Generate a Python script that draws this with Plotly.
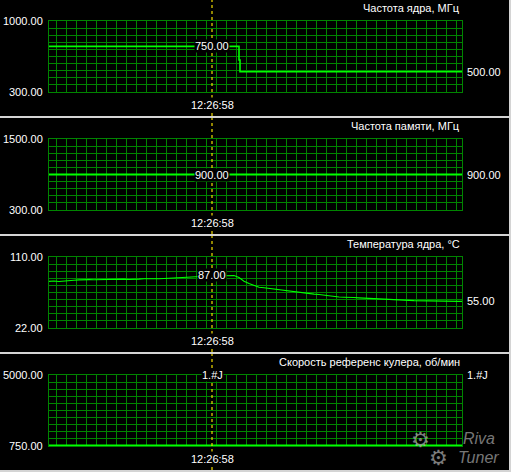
import plotly.graph_objects as go

# ---------------- data ----------------
n_samples = 413          # samples visible across the graph
cursor_index = 163       # sample under the yellow cursor
cursor_time = "12:26:58"

core_titles = "Частота ядра, МГц"
core_idx = [0, 190, 191, 413]
core_mhz = [750, 615, 500, 500]
core_range = [300, 1000]
core_cursor_label = "750.00"
core_last_label = "500.00"

mem_title = "Частота памяти, МГц"
mem_idx = [0, 413]
mem_mhz = [900, 900]
mem_range = [300, 1500]
mem_cursor_label = "900.00"
mem_last_label = "900.00"

temp_title = "Температура ядра, °C"
temp_idx = list(range(0, 411, 5)) + [413]
temp_c = [79.8, 80.2, 79.6, 80.4, 80.9, 81.2, 81.6, 81.3, 81.9, 81.8,
          82.0, 81.7, 82.1, 82.0, 82.3, 82.6, 82.2, 82.8, 82.6, 83.0,
          82.7, 83.2, 83.0, 83.4, 83.8, 84.2, 84.0, 84.9, 85.3, 85.0,
          86.0, 86.3, 86.6, 86.9, 87.0, 86.8, 87.2, 87.0, 84.5, 80.0,
          77.2, 75.0, 72.6, 71.8, 71.0, 70.1, 68.8, 68.0, 67.2, 66.5,
          66.0, 65.4, 64.8, 64.0, 63.5, 62.8, 61.6, 60.5, 60.4, 60.2,
          60.3, 59.8, 59.4, 59.0, 58.5, 58.3, 58.0, 57.7, 57.5, 57.0,
          56.8, 56.5, 56.2, 55.9, 55.7, 55.6, 55.3, 55.2, 55.0, 55.4,
          54.9, 55.0, 55.0, 55.0]
temp_range = [22, 110]
temp_cursor_label = "87.00"
temp_cursor_value = 87.0
temp_last_label = "55.00"

fan_title = "Скорость референс кулера, об/мин"
fan_idx = [0, 413]
fan_rpm = [750, 750]
fan_range = [750, 5000]
fan_cursor_label = "1.#J"
fan_last_label = "1.#J"

# ---------------- layout constants ----------------
W, H = 511, 472
PX_L, PX_R = 49, 462
PANEL_H = 118
PLOT_TOP, PLOT_BOT = 21, 92
GRID = "#008400"
LINE = "#00ff00"
TXT = "#ffffff"
FONT = "Liberation Sans, Arial, sans-serif"
FS = 11

panels = [
    dict(title=core_titles, x=core_idx, y=core_mhz, rng=core_range, shape="hv",
         cur_lbl=core_cursor_label, cur_val=750, last_lbl=core_last_label,
         last_val=core_mhz[-1], lw=1.6),
    dict(title=mem_title, x=mem_idx, y=mem_mhz, rng=mem_range, shape="hv",
         cur_lbl=mem_cursor_label, cur_val=900, last_lbl=mem_last_label,
         last_val=mem_mhz[-1], lw=2),
    dict(title=temp_title, x=temp_idx, y=temp_c, rng=temp_range, shape="linear",
         cur_lbl=temp_cursor_label, cur_val=temp_cursor_value + 1.2,
         last_lbl=temp_last_label, last_val=temp_c[-1], lw=1.1),
    dict(title=fan_title, x=fan_idx, y=fan_rpm, rng=fan_range, shape="hv",
         cur_lbl=fan_cursor_label, cur_val=fan_range[1],
         last_lbl=fan_last_label, last_val=fan_range[1], lw=3),
]

def py(px):
    return 1 - px / H

fig = go.Figure()
annotations = []
shapes = []
layout = {}

for k, p in enumerate(panels):
    top = k * PANEL_H
    xa = "x" if k == 0 else f"x{k+1}"
    ya = "y" if k == 0 else f"y{k+1}"
    xkey = "xaxis" if k == 0 else f"xaxis{k+1}"
    ykey = "yaxis" if k == 0 else f"yaxis{k+1}"
    lo, hi = p["rng"]
    layout[xkey] = dict(domain=[PX_L / W, PX_R / W], range=[0, n_samples],
                        anchor=ya, showgrid=True, gridcolor=GRID, gridwidth=1,
                        tick0=7.3, dtick=10, showticklabels=False, ticks="",
                        zeroline=False, showline=True, mirror=True,
                        linecolor=GRID, linewidth=1, fixedrange=True)
    layout[ykey] = dict(domain=[py(top + PLOT_BOT), py(top + PLOT_TOP)],
                        range=[lo, hi], anchor=xa, showgrid=True,
                        gridcolor=GRID, gridwidth=1, tick0=lo,
                        dtick=(hi - lo) / 10, showticklabels=False, ticks="",
                        zeroline=False, showline=True, mirror=True,
                        linecolor=GRID, linewidth=1, fixedrange=True)
    fig.add_trace(go.Scatter(x=p["x"], y=p["y"], xaxis=xa, yaxis=ya,
                             mode="lines", line=dict(color=LINE, width=p["lw"],
                                                     shape=p["shape"]),
                             hoverinfo="skip", showlegend=False))
    # cursor
    shapes.append(dict(type="line", xref=xa, yref="paper",
                       x0=cursor_index, x1=cursor_index,
                       y0=py(top + PANEL_H - 2), y1=py(top),
                       line=dict(color="#f2dc00", width=1.2, dash="3px,3px"),
                       layer="above"))
    # title
    annotations.append(dict(text=p["title"], xref="paper", yref="paper",
                            x=PX_R / W, y=py(top + 8), xanchor="right",
                            yanchor="middle", showarrow=False,
                            font=dict(color=TXT, size=FS, family=FONT)))
    # axis min/max labels
    for val in (lo, hi):
        annotations.append(dict(text=f"{val:.2f}", xref="paper", yref=ya,
                                x=45 / W, y=val, xanchor="right",
                                yanchor="middle", showarrow=False,
                                font=dict(color=TXT, size=FS, family=FONT)))
    # time label
    annotations.append(dict(text=cursor_time, xref=xa, yref="paper",
                            x=cursor_index, y=py(top + 105), xanchor="center",
                            yanchor="middle", showarrow=False, bgcolor="#000000",
                            borderpad=1,
                            font=dict(color=TXT, size=FS, family=FONT)))
    # cursor value label
    annotations.append(dict(text=p["cur_lbl"], xref=xa, yref=ya,
                            x=cursor_index, y=p["cur_val"], xanchor="center",
                            yanchor="middle", showarrow=False, bgcolor="#000000",
                            borderpad=0,
                            font=dict(color=TXT, size=FS, family=FONT)))
    # last value label
    annotations.append(dict(text=p["last_lbl"], xref="paper", yref=ya,
                            x=465 / W, y=p["last_val"], xanchor="left",
                            yanchor="middle", showarrow=False,
                            font=dict(color=TXT, size=FS, family=FONT)))

# panel separators and window border
for k in range(1, 4):
    shapes.append(dict(type="rect", xref="paper", yref="paper", x0=0, x1=1,
                       y0=py(k * PANEL_H), y1=py(k * PANEL_H - 2),
                       fillcolor="#d4d4d4", line=dict(width=0), layer="above"))
shapes.append(dict(type="rect", xref="paper", yref="paper", x0=0, x1=1,
                   y0=0, y1=py(H - 2), fillcolor="#d4d4d4", line=dict(width=0)))
shapes.append(dict(type="rect", xref="paper", yref="paper", x0=1 - 2 / W, x1=1,
                   y0=0, y1=1, fillcolor="#d4d4d4", line=dict(width=0)))

# RivaTuner watermark
for gx, gy, sz in ((420, 440, 21), (438, 458, 21)):
    annotations.append(dict(text="⚙", xref="paper", yref="paper", x=gx / W,
                            y=py(gy), xanchor="center", yanchor="middle",
                            showarrow=False, opacity=0.7,
                            font=dict(color="#b0b0b0", size=sz,
                                      family="DejaVu Sans")))
annotations.append(dict(text="<i>Riva</i>", xref="paper", yref="paper",
                        x=479 / W, y=py(438), xanchor="center", yanchor="middle",
                        showarrow=False, opacity=0.7,
                        font=dict(color="#a8a8a8", size=16, family=FONT)))
annotations.append(dict(text="<i>Tuner</i>", xref="paper", yref="paper",
                        x=478 / W, y=py(457), xanchor="center", yanchor="middle",
                        showarrow=False, opacity=0.7,
                        font=dict(color="#a8a8a8", size=16, family=FONT)))

fig.update_layout(width=W, height=H, margin=dict(l=0, r=0, t=0, b=0),
                  paper_bgcolor="#000000", plot_bgcolor="#000000",
                  annotations=annotations, shapes=shapes, showlegend=False,
                  **layout)

fig.write_html("out.html", config={"displayModeBar": False},
               post_script="document.body.style.margin='0';"
                           "document.body.style.padding='0';"
                           "document.body.style.background='#000';")
